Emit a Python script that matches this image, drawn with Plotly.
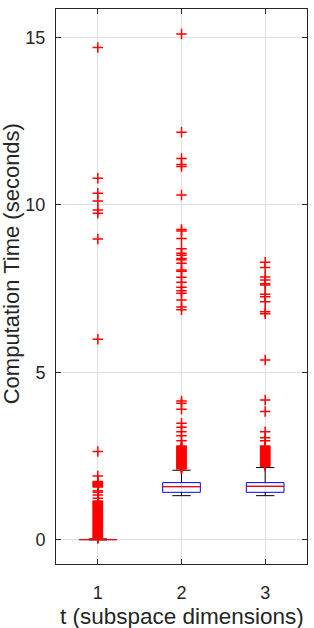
import plotly.graph_objects as go

# ---- data ----
groups = [1, 2, 3]
q1 = [0.01, 1.42, 1.42]
median = [0.01, 1.59, 1.60]
q3 = [0.01, 1.71, 1.71]
lower_whisker = [0.00, 1.32, 1.32]
upper_whisker = [0.03, 2.08, 2.16]

outliers_1 = [0.04, 0.06, 0.08, 0.10, 0.12, 0.14, 0.16, 0.18, 0.20, 0.22, 0.24, 0.26,
              0.28, 0.30, 0.32, 0.34, 0.36, 0.38, 0.40, 0.42, 0.44, 0.46, 0.48, 0.50,
              0.52, 0.54, 0.56, 0.58, 0.60, 0.62, 0.64, 0.66, 0.68, 0.70, 0.72, 0.74,
              0.76, 0.78, 0.80, 0.82, 0.84, 0.86, 0.88, 0.90, 0.92, 0.94, 0.96, 0.98,
              1.00, 1.02, 1.04, 1.06, 1.08, 1.10, 1.12, 1.14, 1.16, 1.24, 1.34, 1.42,
              1.47, 1.58, 1.60, 1.62, 1.64, 1.66, 1.68, 1.70, 1.72, 1.74, 1.91, 2.64,
              5.99, 8.98, 9.75, 9.85, 10.12, 10.35, 10.80, 14.70]
outliers_2 = [2.12, 2.14, 2.16, 2.18, 2.20, 2.22, 2.24, 2.26, 2.28, 2.30, 2.32, 2.34,
              2.36, 2.38, 2.40, 2.42, 2.44, 2.46, 2.48, 2.50, 2.52, 2.54, 2.56, 2.58,
              2.60, 2.62, 2.64, 2.66, 2.68, 2.70, 2.72, 2.74, 2.76, 2.78, 2.80, 2.96,
              3.11, 3.23, 3.36, 3.48, 3.90, 4.08, 4.15, 6.87, 6.95, 7.16, 7.36, 7.44,
              7.54, 7.69, 7.84, 8.02, 8.06, 8.26, 8.36, 8.40, 8.50, 8.56, 8.69, 9.00,
              9.22, 9.27, 10.30, 11.15, 11.21, 11.39, 12.17, 15.10]
outliers_3 = [2.20, 2.22, 2.24, 2.26, 2.28, 2.30, 2.32, 2.34, 2.36, 2.38, 2.40, 2.42,
              2.44, 2.46, 2.48, 2.50, 2.52, 2.54, 2.56, 2.58, 2.60, 2.62, 2.64, 2.66,
              2.68, 2.70, 2.72, 2.74, 2.76, 2.78, 2.80, 2.96, 3.05, 3.23, 3.83, 4.18,
              5.37, 6.75, 6.81, 7.11, 7.26, 7.33, 7.61, 7.65, 7.76, 7.85, 8.13, 8.29]
outliers = [outliers_1, outliers_2, outliers_3]

x_ticks = [1, 2, 3]
y_ticks = [0, 5, 10, 15]
x_title = "t (subspace dimensions)"
y_title = "Computation Time (seconds)"

# ---- style ----
BOX_W = 0.45
CAP_HALF = 0.11
FONT = "Liberation Sans, Arial, sans-serif"
TXT = "#262626"

fig = go.Figure()

# boxes (no whiskers; whiskers drawn separately in black)
fig.add_trace(go.Box(
    x=groups, q1=q1, median=median, q3=q3,
    lowerfence=q1, upperfence=q3,
    width=BOX_W, whiskerwidth=0,
    line=dict(color="blue", width=1),
    fillcolor="rgba(0,0,0,0)",
    boxpoints=False, showlegend=False, hoverinfo="skip",
))

# whiskers
wx, wy = [], []
for g, a, b, lw, uw in zip(groups, q1, q3, lower_whisker, upper_whisker):
    wx += [g, g, None, g - CAP_HALF, g + CAP_HALF, None,
           g, g, None, g - CAP_HALF, g + CAP_HALF, None]
    wy += [b, uw, None, uw, uw, None,
           a, lw, None, lw, lw, None]
fig.add_trace(go.Scatter(x=wx, y=wy, mode="lines",
                         line=dict(color="black", width=1),
                         showlegend=False, hoverinfo="skip"))

# medians
mx, my = [], []
for g, m in zip(groups, median):
    mx += [g - BOX_W / 2, g + BOX_W / 2, None]
    my += [m, m, None]
fig.add_trace(go.Scatter(x=mx, y=my, mode="lines",
                         line=dict(color="red", width=1.3),
                         showlegend=False, hoverinfo="skip"))

# outliers
for g, vals in zip(groups, outliers):
    fig.add_trace(go.Scatter(
        x=[g] * len(vals), y=vals, mode="markers",
        marker=dict(symbol="cross-thin", size=7.5,
                    line=dict(color="red", width=1.5), color="red"),
        showlegend=False, hoverinfo="skip"))

axis_common = dict(
    showline=True, linecolor=TXT, linewidth=1, mirror="ticks",
    ticks="inside", ticklen=5, tickcolor=TXT,
    showgrid=True, gridcolor="#dfdfdf", gridwidth=1,
    zeroline=False, automargin=False,
    tickfont=dict(family=FONT, size=18, color=TXT),
)

fig.update_layout(
    width=314, height=628,
    margin=dict(l=56, r=7, t=9, b=64),
    paper_bgcolor="white", plot_bgcolor="white",
    font=dict(family=FONT, color=TXT),
    xaxis=dict(range=[0.5, 3.5], tickvals=x_ticks, ticklabelstandoff=12,
               **axis_common),
    yaxis=dict(range=[-0.72, 15.85], tickvals=y_ticks, ticklabelstandoff=6,
               **axis_common),
    annotations=[
        dict(text=x_title, xref="paper", yref="paper", x=0.5, y=0,
             xanchor="center", yanchor="middle", yshift=-52, showarrow=False,
             font=dict(family=FONT, size=22.5, color=TXT)),
        dict(text=y_title, xref="paper", yref="paper", x=0, y=0.54,
             xanchor="center", yanchor="middle", xshift=-45, textangle=-90,
             showarrow=False, font=dict(family=FONT, size=22, color=TXT)),
    ],
)

# remove the browser's default 8px page margin so the figure fills the window
fig.write_html("out.html",
               config={"displayModeBar": False},
               post_script="document.body.style.margin='0';"
                           "document.body.style.overflow='hidden';")
